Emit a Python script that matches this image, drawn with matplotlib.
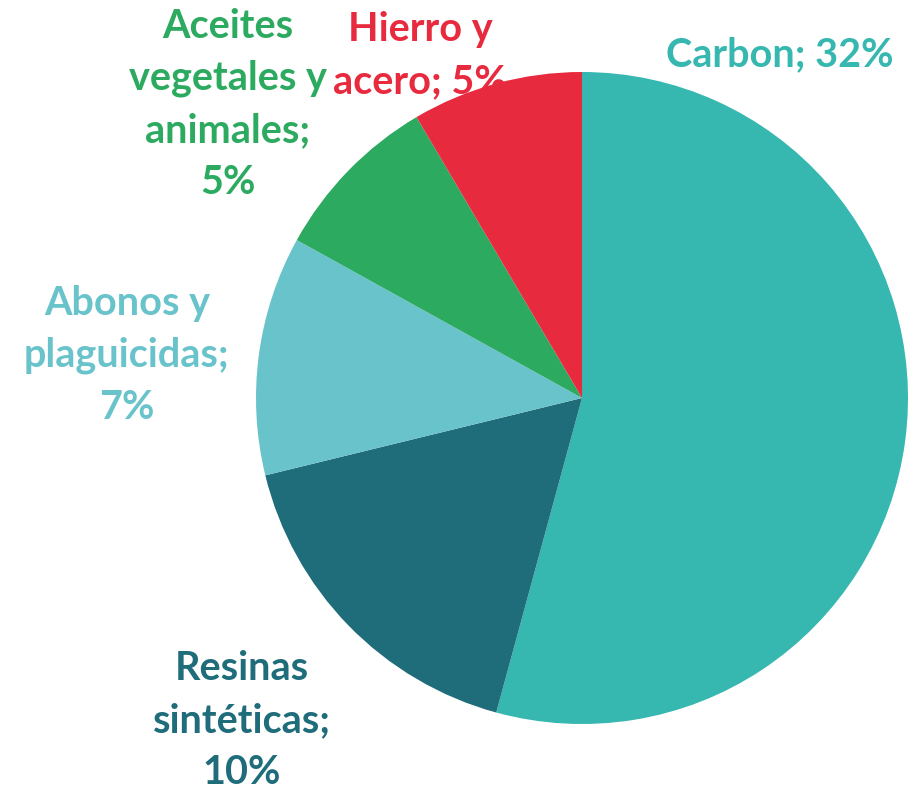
import matplotlib
matplotlib.use("Agg")
import matplotlib.pyplot as plt

etiquetas = ["Carbon", "Resinas\nsintéticas", "Abonos y\nplaguicidas", "Aceites\nvegetales y\nanimales", "Hierro y\nacero"]
porcentajes = [32, 10, 7, 5, 5]
textos = ["Carbon; 32%", "Resinas\nsintéticas;\n10%", "Abonos y\nplaguicidas;\n7%",
          "Aceites\nvegetales y\nanimales;\n5%", "Hierro y\nacero; 5%"]
colores = ["#36B7B0", "#1F6C7A", "#69C3CB", "#2BAA60", "#E82A3E"]

# position des étiquettes (en rayons, centre du camembert = 0,0)
pos_textes = [(0.607, 1.052), (-1.043, -0.99), (-1.396, 0.13), (-1.086, 0.90), (-0.497, 1.05)]

fig = plt.figure(figsize=(9.19, 7.90), dpi=100)
ax = fig.add_axes([0, 0, 1, 1])
ax.pie(porcentajes, colors=colores, startangle=90, counterclock=False,
       radius=1.0, center=(0, 0), wedgeprops={"linewidth": 0})
ax.set_xlim(-582 / 326, (919 - 582) / 326)
ax.set_ylim(-(790 - 398) / 326, 398 / 326)
ax.set_aspect("equal")
ax.axis("off")

for t, (x, y), c in zip(textos, pos_textes, colores):
    ax.text(x, y, t, ha="center", va="center", color=c, fontsize=28.5,
            fontweight="bold", family="Lato", linespacing=1.5)

fig.savefig("out.png", dpi=100)
